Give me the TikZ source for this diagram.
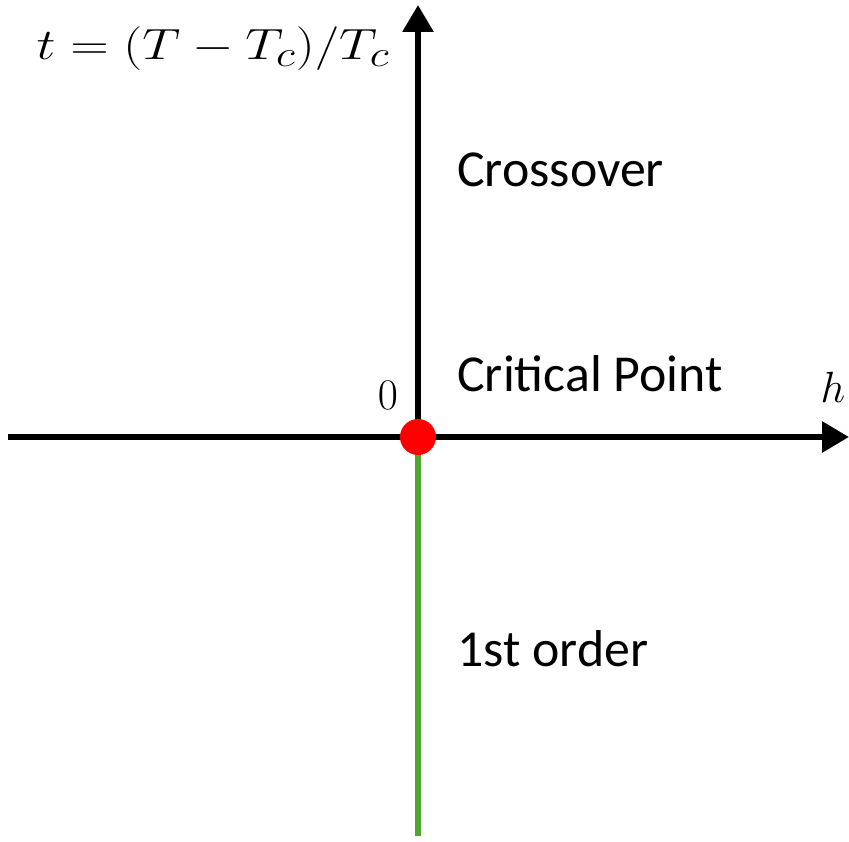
\documentclass[tikz,border=0pt]{standalone}
\usepackage{fontspec}
\setmainfont{Carlito}
\usetikzlibrary{arrows.meta}
\definecolor{ordergreen}{RGB}{78,167,46}

\begin{document}
\begin{tikzpicture}[x=0.02cm, y=0.02cm, >={Triangle[length=0.54cm,width=0.6cm]},
    axis/.style={line width=0.12cm},
    lbl/.style={anchor=base west, inner sep=0pt, font=\fontsize{29.5}{34}\selectfont},
    mlbl/.style={inner sep=0pt, font=\fontsize{28}{32}\selectfont}]
    % Rahmen (849 x 842 px)
    \useasboundingbox (0,0) rectangle (849,842);

    % Ursprung und Achsenenden
    \coordinate (O) at (418,405);
    \coordinate (hleft) at (8,405);
    \coordinate (hright) at (849,405);
    \coordinate (ttop) at (418,837);
    \coordinate (tbot) at (418,6);

    % Achsen
    \draw[axis,->] (hleft) -- (hright);
    \draw[axis,->] (O) -- (ttop);
    % Linie 1. Ordnung
    \draw[axis, ordergreen, line width=0.13cm] (O) -- (tbot);
    % Kritischer Punkt
    \fill[red] (O) circle (18);

    % Achsenbeschriftungen
    \node[mlbl, anchor=base east] (tlabel) at (390,782)
        {\scalebox{1.22}[1]{$t=(T-T_c)/T_c$}};
    \node[mlbl, anchor=base] (hlabel) at (833,439) {$h$};
    \node[mlbl, anchor=base] (zero) at (388,432) {$0$};

    % Bereiche
    \node[lbl] (cross) at (457,655) {Crossover};
    \node[lbl] (crit) at (457,450) {Critical Point};
    \node[lbl] (first) at (457,175) {1st order};
\end{tikzpicture}
\end{document}
